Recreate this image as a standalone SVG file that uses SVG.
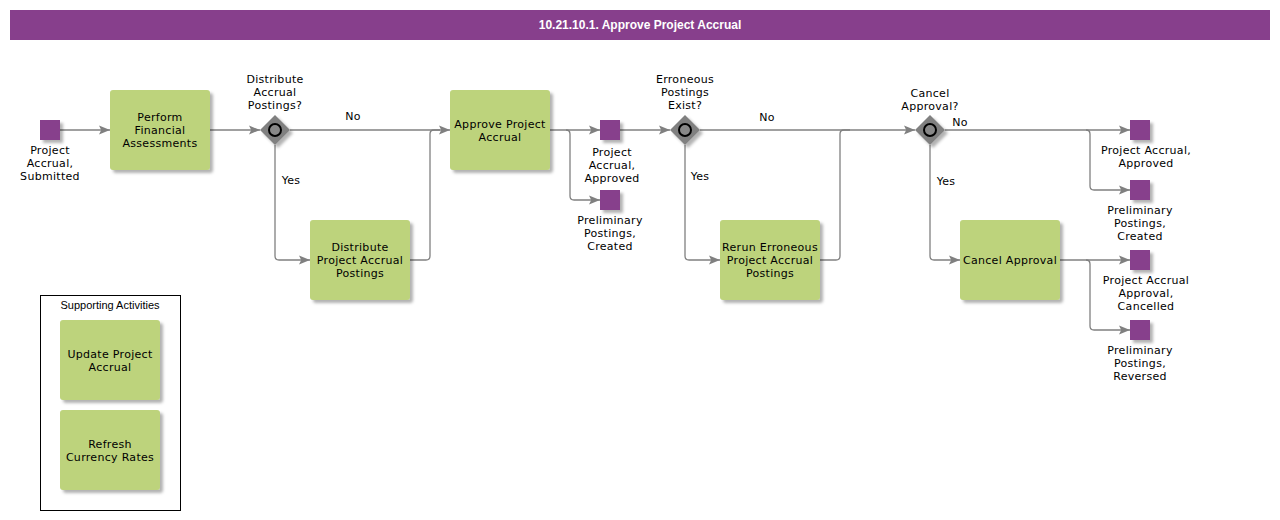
<svg xmlns="http://www.w3.org/2000/svg" width="1280" height="520" viewBox="0 0 1280 520">
<defs>
<filter id="sh" x="-20%" y="-20%" width="150%" height="150%">
<feDropShadow dx="3" dy="3" stdDeviation="1.5" flood-color="#000" flood-opacity="0.3"/>
</filter>
<marker id="arr" viewBox="0 0 10 10" refX="10" refY="5" markerWidth="11" markerHeight="11" markerUnits="userSpaceOnUse" orient="auto">
<path d="M0,1 L10,5 L0,9 L2,5 Z" fill="#808080"/>
</marker>
<style>
.task{fill:#bdd37c;filter:url(#sh)}
.ev{fill:#873f8c;filter:url(#sh)}
.gw{fill:#808080;filter:url(#sh)}
.gc{fill:#888;stroke:#000;stroke-width:2}
.t{font-family:"DejaVu Sans",Verdana,sans-serif;font-size:11px;letter-spacing:0.3px;fill:#000;text-anchor:middle}
.c{fill:none;stroke:#808080;stroke-width:1.3}
.ca{fill:none;stroke:#808080;stroke-width:1.3;marker-end:url(#arr)}
</style>
</defs>
<rect width="1280" height="520" fill="#fff"/>
<g id="header">
<rect x="10" y="10" width="1260" height="30" fill="#873f8c"/>
<text x="640" y="29" font-family="Liberation Sans,Arial,sans-serif" font-weight="bold" font-size="12" fill="#fff" text-anchor="middle">10.21.10.1. Approve Project Accrual</text>
</g>
<g id="connectors">
<path class="ca" d="M60,130 H110"/>
<path class="ca" d="M210,130 H260"/>
<path class="ca" d="M290,130 H450"/>
<path class="ca" d="M275,145 V256 Q275,260 279,260 H310"/>
<path class="c" d="M410,260 H426 Q430,260 430,256 V134 Q430,130 434,130 H440"/>
<path class="ca" d="M550,130 H600"/>
<path class="ca" d="M566,130 Q570,130 570,134 V196 Q570,200 574,200 H600"/>
<path class="ca" d="M620,130 H670"/>
<path class="ca" d="M700,130 H915"/>
<path class="ca" d="M685,145 V256 Q685,260 689,260 H720"/>
<path class="c" d="M820,260 H836 Q840,260 840,256 V134 Q840,130 844,130 H850"/>
<path class="ca" d="M945,130 H1130"/>
<path class="ca" d="M1086,130 Q1090,130 1090,134 V186 Q1090,190 1094,190 H1130"/>
<path class="ca" d="M930,145 V256 Q930,260 934,260 H960"/>
<path class="ca" d="M1060,260 H1130"/>
<path class="ca" d="M1086,260 Q1090,260 1090,264 V326 Q1090,330 1094,330 H1130"/>
<text class="t" x="353" y="120">No</text>
<text class="t" x="291" y="184">Yes</text>
<text class="t" x="767" y="121">No</text>
<text class="t" x="700" y="180">Yes</text>
<text class="t" x="960" y="126">No</text>
<text class="t" x="946" y="185">Yes</text>
</g>
<g id="start">
<rect class="ev" x="40" y="120" width="20" height="20"/>
<text class="t" x="50" y="154">Project</text>
<text class="t" x="50" y="167">Accrual,</text>
<text class="t" x="50" y="180">Submitted</text>
</g>
<g id="perform">
<rect class="task" x="110" y="90" width="100" height="80" rx="3"/>
<text class="t" x="160" y="121">Perform</text>
<text class="t" x="160" y="134">Financial</text>
<text class="t" x="160" y="147">Assessments</text>
</g>
<g id="gw1">
<path class="gw" d="M275,115 L290,130 L275,145 L260,130 Z"/>
<circle class="gc" cx="275" cy="130" r="6"/>
<text class="t" x="275" y="83">Distribute</text>
<text class="t" x="275" y="96">Accrual</text>
<text class="t" x="275" y="109">Postings?</text>
</g>
<g id="distribute">
<rect class="task" x="310" y="220" width="100" height="80" rx="3"/>
<text class="t" x="360" y="251">Distribute</text>
<text class="t" x="360" y="264">Project Accrual</text>
<text class="t" x="360" y="277">Postings</text>
</g>
<g id="approve">
<rect class="task" x="450" y="90" width="100" height="80" rx="3"/>
<text class="t" x="500" y="128">Approve Project</text>
<text class="t" x="500" y="141">Accrual</text>
</g>
<g id="ev-approved1">
<rect class="ev" x="600" y="120" width="20" height="20"/>
<text class="t" x="612" y="156">Project</text>
<text class="t" x="612" y="169">Accrual,</text>
<text class="t" x="612" y="182">Approved</text>
</g>
<g id="ev-created1">
<rect class="ev" x="600" y="190" width="20" height="20"/>
<text class="t" x="610" y="224">Preliminary</text>
<text class="t" x="610" y="237">Postings,</text>
<text class="t" x="610" y="250">Created</text>
</g>
<g id="gw2">
<path class="gw" d="M685,115 L700,130 L685,145 L670,130 Z"/>
<circle class="gc" cx="685" cy="130" r="6"/>
<text class="t" x="685" y="83">Erroneous</text>
<text class="t" x="685" y="96">Postings</text>
<text class="t" x="685" y="109">Exist?</text>
</g>
<g id="rerun">
<rect class="task" x="720" y="220" width="100" height="80" rx="3"/>
<text class="t" x="770" y="251">Rerun Erroneous</text>
<text class="t" x="770" y="264">Project Accrual</text>
<text class="t" x="770" y="277">Postings</text>
</g>
<g id="gw3">
<path class="gw" d="M930,115 L945,130 L930,145 L915,130 Z"/>
<circle class="gc" cx="930" cy="130" r="6"/>
<text class="t" x="930" y="97">Cancel</text>
<text class="t" x="930" y="110">Approval?</text>
</g>
<g id="cancel">
<rect class="task" x="960" y="220" width="100" height="80" rx="3"/>
<text class="t" x="1010" y="264">Cancel Approval</text>
</g>
<g id="ev-approved2">
<rect class="ev" x="1130" y="120" width="20" height="20"/>
<text class="t" x="1146" y="154">Project Accrual,</text>
<text class="t" x="1146" y="167">Approved</text>
</g>
<g id="ev-created2">
<rect class="ev" x="1130" y="180" width="20" height="20"/>
<text class="t" x="1140" y="214">Preliminary</text>
<text class="t" x="1140" y="227">Postings,</text>
<text class="t" x="1140" y="240">Created</text>
</g>
<g id="ev-cancelled">
<rect class="ev" x="1130" y="250" width="20" height="20"/>
<text class="t" x="1146" y="284">Project Accrual</text>
<text class="t" x="1146" y="297">Approval,</text>
<text class="t" x="1146" y="310">Cancelled</text>
</g>
<g id="ev-reversed">
<rect class="ev" x="1130" y="320" width="20" height="20"/>
<text class="t" x="1140" y="354">Preliminary</text>
<text class="t" x="1140" y="367">Postings,</text>
<text class="t" x="1140" y="380">Reversed</text>
</g>
<g id="supporting">
<rect x="40.5" y="295.5" width="140" height="215" fill="none" stroke="#000" stroke-width="1"/>
<text x="110" y="309" font-family="Liberation Sans,Arial,sans-serif" font-size="11" text-anchor="middle" fill="#000">Supporting Activities</text>
</g>
<g id="update">
<rect class="task" x="60" y="320" width="100" height="80" rx="3"/>
<text class="t" x="110" y="358">Update Project</text>
<text class="t" x="110" y="371">Accrual</text>
</g>
<g id="refresh">
<rect class="task" x="60" y="410" width="100" height="80" rx="3"/>
<text class="t" x="110" y="448">Refresh</text>
<text class="t" x="110" y="461">Currency Rates</text>
</g>
</svg>
